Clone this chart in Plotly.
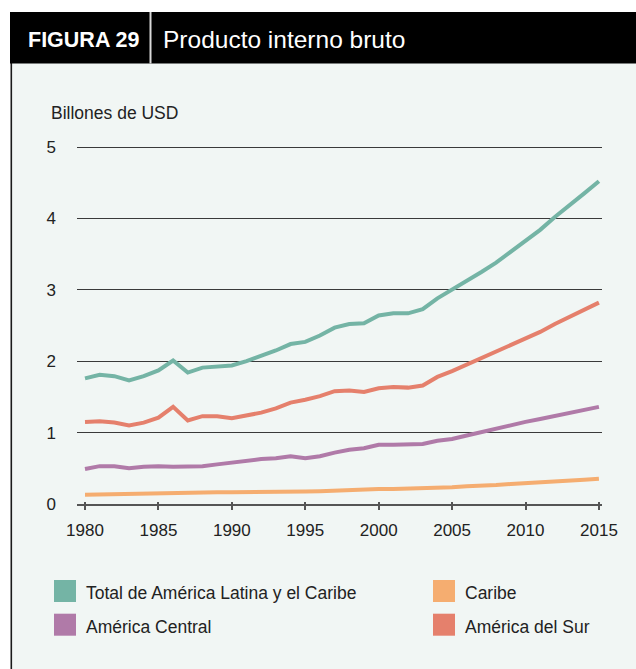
import plotly.graph_objects as go

# ---- data (billions of USD) ----
years = list(range(1980, 2016))

total = [1.76, 1.81, 1.79, 1.73, 1.79, 1.87, 2.01, 1.84, 1.91, 1.93,
         1.94, 2.00, 2.07, 2.15, 2.24, 2.27, 2.36, 2.47, 2.52, 2.53,
         2.64, 2.67, 2.67, 2.73, 2.88, 3.00, 3.12, 3.25, 3.38, 3.53,
         3.68, 3.84, 4.02, 4.18, 4.35, 4.52]

caribe = [0.13, 0.135, 0.14, 0.14, 0.145, 0.15, 0.15, 0.155, 0.16, 0.165,
          0.165, 0.165, 0.165, 0.17, 0.17, 0.175, 0.18, 0.19, 0.195, 0.20,
          0.21, 0.21, 0.215, 0.22, 0.225, 0.235, 0.25, 0.255, 0.265, 0.28,
          0.29, 0.30, 0.31, 0.325, 0.34, 0.355]

central = [0.49, 0.53, 0.53, 0.50, 0.52, 0.53, 0.52, 0.53, 0.53, 0.555,
           0.58, 0.61, 0.63, 0.64, 0.67, 0.64, 0.67, 0.72, 0.76, 0.78,
           0.83, 0.83, 0.835, 0.84, 0.885, 0.91, 0.96, 1.01, 1.05, 1.10,
           1.15, 1.19, 1.23, 1.28, 1.32, 1.36]

sur = [1.15, 1.16, 1.14, 1.10, 1.14, 1.21, 1.36, 1.17, 1.23, 1.23,
       1.20, 1.24, 1.28, 1.34, 1.42, 1.46, 1.51, 1.58, 1.59, 1.57,
       1.62, 1.64, 1.63, 1.66, 1.78, 1.86, 1.95, 2.04, 2.13, 2.22,
       2.32, 2.41, 2.52, 2.62, 2.72, 2.82]

series_names = ["Total de América Latina y el Caribe", "Caribe",
                "América Central", "América del Sur"]
series_values = [total, caribe, central, sur]
series_colors = ["#74b4a5", "#f5ad70", "#b07aa8", "#e5806c"]

x_ticks = [1980, 1985, 1990, 1995, 2000, 2005, 2010, 2015]
y_ticks = [0, 1, 2, 3, 4, 5]

fig_title_tag = "FIGURA 29"
fig_title = "Producto interno bruto"
y_unit = "Billones de USD"

# ---- page geometry ----
W, H = 636, 669
ML, MR, MT, MB = 77, 34, 145, 165
PW, PH = W - ML - MR, H - MT - MB
FONT = "Liberation Sans, Arial, Helvetica, sans-serif"
TEXT = "#222222"
PANEL = "#f1f6f4"

# a little headroom above 5 so its grid line is not cut at the plot edge
y_top = 5 * PH / 357.0


def px(xp):
    return (xp - ML) / PW


def py(yp):
    return (H - MB - yp) / PH


fig = go.Figure()

for name, vals, col in zip(series_names, series_values, series_colors):
    fig.add_trace(go.Scatter(
        x=years, y=vals, mode="lines", name=name,
        line=dict(color=col, width=4), showlegend=False,
        hoverinfo="x+y+name",
    ))

# helper trace so the crossing tick overlay axis is drawn
fig.add_trace(go.Scatter(x=[None], y=[None], xaxis="x2", showlegend=False,
                         hoverinfo="skip"))

shapes = [
    # light panel
    dict(type="rect", xref="paper", yref="paper",
         x0=px(11), x1=px(W + 5), y0=py(H + 5), y1=py(63),
         fillcolor=PANEL, line=dict(width=0), layer="below"),
    # panel left rule
    dict(type="line", xref="paper", yref="paper",
         x0=px(11.3), x1=px(11.3), y0=py(H + 5), y1=py(63),
         line=dict(color="#1a1a1a", width=1.6), layer="below"),
    # black header bar
    dict(type="rect", xref="paper", yref="paper",
         x0=px(10), x1=px(W + 5), y0=py(63.5), y1=py(12),
         fillcolor="#000000", line=dict(width=0), layer="above"),
    # header divider
    dict(type="line", xref="paper", yref="paper",
         x0=px(150.5), x1=px(150.5), y0=py(63.5), y1=py(12),
         line=dict(color="#d8d8d8", width=2), layer="above"),
]

annotations = [
    dict(text=f"<b>{fig_title_tag}</b>", xref="paper", yref="paper",
         x=px(26), y=py(40), xanchor="left", yanchor="middle",
         showarrow=False, font=dict(family=FONT, size=21.5, color="white")),
    dict(text=fig_title, xref="paper", yref="paper",
         x=px(161), y=py(39.5), xanchor="left", yanchor="middle",
         showarrow=False, font=dict(family=FONT, size=24.5, color="white")),
    dict(text=y_unit, xref="paper", yref="paper",
         x=px(49), y=py(112.5), xanchor="left", yanchor="middle",
         showarrow=False, font=dict(family=FONT, size=17.5, color=TEXT)),
]

# two-column legend with square swatches
legend_slots = [(54, 591), (433, 591), (54, 624.7), (433, 624.7)]
for (sx, sy), name, col in zip(legend_slots, series_names, series_colors):
    shapes.append(dict(type="rect", xref="paper", yref="paper",
                       x0=px(sx), x1=px(sx + 22), y0=py(sy + 11), y1=py(sy - 11),
                       fillcolor=col, line=dict(width=0)))
    annotations.append(dict(text=name, xref="paper", yref="paper",
                            x=px(sx + 29.5), y=py(sy + 2), xanchor="left",
                            yanchor="middle", showarrow=False,
                            font=dict(family=FONT, size=17.5, color=TEXT)))

x_range = [1979.455, 2015.21]

fig.update_layout(
    width=W, height=H,
    margin=dict(l=ML, r=MR, t=MT, b=MB, pad=0),
    paper_bgcolor="white",
    plot_bgcolor="rgba(0,0,0,0)",
    font=dict(family=FONT, color=TEXT, size=17),
    showlegend=False,
    shapes=shapes,
    annotations=annotations,
    xaxis=dict(
        range=x_range, tickvals=x_ticks, ticktext=[str(v) for v in x_ticks],
        showgrid=False, zeroline=False,
        showline=True, linecolor="#555555", linewidth=1.5,
        ticks="outside", ticklen=4, tickwidth=1.5, tickcolor="#555555",
        tickfont=dict(family=FONT, size=17, color=TEXT),
        ticklabelstandoff=6,
    ),
    xaxis2=dict(
        range=x_range, overlaying="x", anchor="y", side="bottom",
        tickvals=x_ticks, showticklabels=False, showgrid=False,
        zeroline=False, showline=False,
        ticks="inside", ticklen=2.5, tickwidth=1.5, tickcolor="#555555",
    ),
    yaxis=dict(
        range=[0, y_top], tickvals=y_ticks, ticktext=[str(v) for v in y_ticks],
        showgrid=True, gridcolor="#3a3a3a", gridwidth=1.2,
        zeroline=False, showline=False, ticks="",
        tickfont=dict(family=FONT, size=17, color=TEXT),
        ticklabelstandoff=20,
    ),
)

fig.write_html("out.html")
